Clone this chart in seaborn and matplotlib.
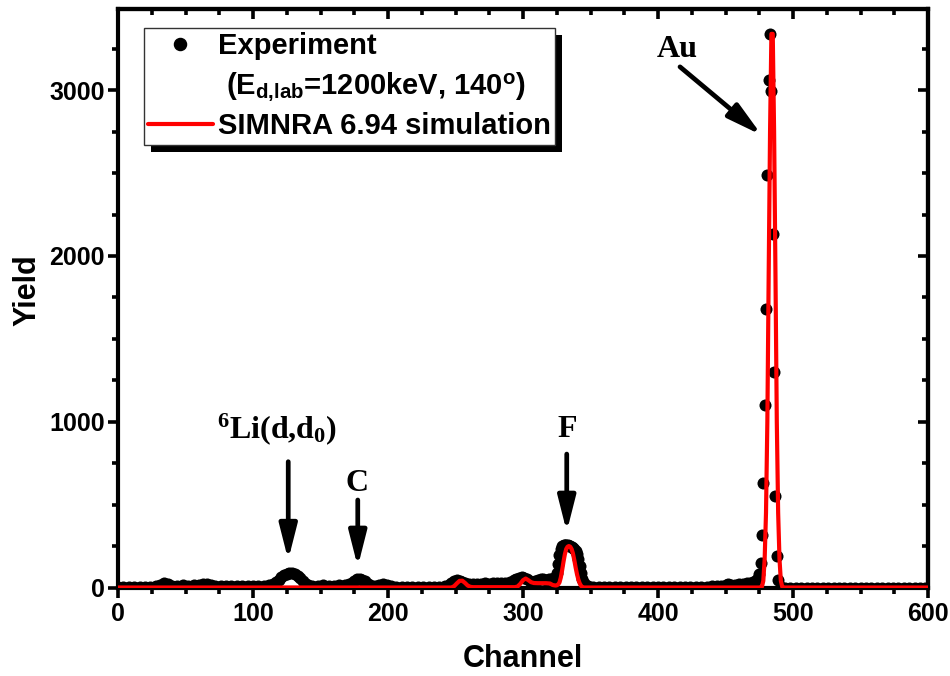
import matplotlib
matplotlib.use("Agg")
import matplotlib.pyplot as plt
import seaborn as sns
import pandas as pd
from matplotlib import font_manager
from matplotlib.lines import Line2D
from matplotlib.patches import Rectangle
from matplotlib.ticker import MultipleLocator
from matplotlib.transforms import IdentityTransform

# ---------------- data ----------------
# Measured spectrum (channel, counts)
exp_channel = [
    0, 4, 8, 12, 16, 20, 24, 28, 31, 34, 37, 40, 44, 48, 52, 56, 60, 63, 66, 69,
    72, 76, 80, 84, 88, 92, 96, 100, 104, 108, 112,
    115, 117, 119, 121, 123, 125, 127, 129, 131, 133, 135, 137, 139, 141,
    144, 148, 152, 156, 160, 164, 168,
    171, 173, 175, 177, 179, 181, 183, 185, 187,
    190, 193, 196, 199, 202, 206, 210, 214, 218, 222, 226, 230, 234, 238, 242, 245,
    247, 249, 251, 253, 255, 257,
    260, 263, 266, 269, 272, 275, 278, 281, 284, 287, 290, 293,
    295, 297, 299, 301, 303, 305, 307, 309, 311, 313, 315, 317, 319, 321, 323,
    324, 325, 326, 327, 328, 329, 330, 331, 332, 333, 334, 335, 336, 337, 338,
    339, 340, 341, 342, 343, 344, 345, 346, 348,
    352, 356, 360, 364, 368, 372, 376, 380, 384, 388, 392, 396, 400, 404, 408,
    412, 416, 420, 424, 428, 432, 436, 440, 444, 447,
    450, 452, 454, 457, 460, 463, 466, 468, 470, 472, 474, 475,
    476, 477, 478, 479, 480, 481, 482, 483, 484, 485, 486, 487, 488, 489, 491,
    494, 498, 502, 506, 510, 514, 518, 522, 526, 530, 534, 538, 542, 546, 550,
    554, 558, 562, 566, 570, 574, 578, 582, 586, 590, 594, 598, 600,
]
exp_yield = [
    2, 3, 3, 2, 3, 2, 4, 8, 18, 25, 20, 12, 11, 13, 12, 13, 15, 20, 22, 15,
    10, 9, 9, 10, 9, 8, 9, 10, 9, 11, 14,
    20, 32, 48, 64, 77, 84, 86, 85, 80, 70, 55, 38, 24, 16,
    12, 12, 13, 12, 12, 13, 15,
    20, 30, 42, 51, 53, 48, 37, 24, 14,
    10, 14, 19, 14, 8, 5, 4, 4, 4, 4, 4, 5, 5, 6, 8, 15,
    30, 42, 45, 42, 34, 26,
    22, 21, 23, 24, 25, 24, 25, 26, 27, 29, 34, 45,
    54, 59, 61, 58, 50, 40, 36, 40, 48, 51, 50, 48, 50, 54, 58,
    60, 90, 140, 195, 232, 250, 256, 258, 257, 255, 252, 248, 244, 240, 232,
    220, 200, 170, 130, 85, 50, 25, 12, 8,
    6, 5, 5, 5, 4, 4, 4, 5, 5, 5, 4, 4, 4, 4, 4,
    4, 5, 5, 5, 5, 5, 6, 7, 8, 12,
    18, 22, 14, 16, 20, 24, 26, 30, 34, 40, 55, 80,
    146, 314, 629, 1100, 1683, 2491, 3063, 3337, 2996, 2132, 1302, 550, 191, 45, 5,
    0, 0, 0, 0, 0, 0, 0, 0, 0, 0, 0, 0, 0, 0, 0,
    0, 0, 0, 0, 0, 0, 0, 0, 0, 0, 0, 0, 0,
]

# SIMNRA simulated spectrum (polyline nodes)
sim_channel = [
    0, 247, 249, 251, 253, 255, 257, 259, 261, 263, 294, 296, 298, 300, 302, 304,
    306, 308, 311, 314, 317, 320, 322, 324,
    325, 326, 327, 328, 329, 330, 331, 332, 333, 334, 335, 336, 337, 338, 339,
    340, 341, 342, 343, 344, 345,
    476, 477, 478, 479, 480, 481, 482, 483, 484, 485, 486, 487, 488, 489, 490,
    491, 492, 493, 600,
]
sim_yield = [
    0, 0, 8, 25, 40, 41, 28, 12, 4, 2, 2, 6, 22, 44, 54, 44,
    32, 27, 26, 26, 26, 24, 15, 12,
    13, 18, 30, 60, 105, 155, 200, 232, 246, 250, 246, 232, 205, 165, 120,
    80, 48, 25, 10, 3, 0,
    0, 5, 40, 170, 450, 1000, 1900, 2750, 3340, 3340, 2750, 1900, 1000, 450, 170,
    40, 5, 0, 0,
]

x_ticks = [0, 100, 200, 300, 400, 500, 600]
y_ticks = [0, 1000, 2000, 3000]

# ---------------- style ----------------
sns.set_style("ticks", rc={
    "axes.edgecolor": "black", "xtick.color": "black", "ytick.color": "black",
    "text.color": "black", "axes.labelcolor": "black",
})
names = {f.name for f in font_manager.fontManager.ttflist}
narrow = "Liberation Sans Narrow" if "Liberation Sans Narrow" in names else "Liberation Sans"
tick_size = 21 if narrow == "Liberation Sans Narrow" else 18
plt.rcParams["font.family"] = [narrow, "DejaVu Sans"]
plt.rcParams["font.weight"] = "bold"
plt.rcParams["mathtext.fontset"] = "custom"
plt.rcParams["mathtext.rm"] = "Liberation Serif:bold"
plt.rcParams["mathtext.bf"] = "Liberation Serif:bold"
plt.rcParams["mathtext.it"] = "Liberation Serif:bold:italic"
plt.rcParams["mathtext.sf"] = "Liberation Sans:bold"

exp_df = pd.DataFrame({"Channel": exp_channel, "Yield": exp_yield})
sim_df = pd.DataFrame({"Channel": sim_channel, "Yield": sim_yield})

fig = plt.figure(figsize=(9.5, 6.76), dpi=100)
ax = fig.add_axes([118 / 950, 88.5 / 676, 810 / 950, 578.5 / 676])

sns.scatterplot(data=exp_df, x="Channel", y="Yield", color="black", s=75,
                linewidth=0, legend=False, ax=ax, zorder=2)
sns.lineplot(data=sim_df, x="Channel", y="Yield", color="red", lw=3.0,
             estimator=None, sort=False, legend=False, ax=ax, zorder=3)

ax.set_xlim(0, 600)
ax.set_ylim(0, 3490)

# axes frame and ticks
for sp in ax.spines.values():
    sp.set_visible(True)
    sp.set_linewidth(3.0)
    sp.set_color("black")
    sp.set_zorder(2.5)
ax.set_xticks(x_ticks)
ax.set_yticks(y_ticks)
ax.xaxis.set_minor_locator(MultipleLocator(25))
ax.yaxis.set_minor_locator(MultipleLocator(250))
ax.tick_params(which="major", direction="out", length=7.5, width=2.6,
               labelsize=tick_size, top=False, right=False, color="black",
               labelcolor="black")
ax.tick_params(which="minor", direction="out", length=4, width=2.6,
               top=False, right=False, color="black")
ax.tick_params(axis="y", pad=2)
ax.tick_params(axis="x", pad=3)

sec_x = ax.secondary_xaxis("top")
sec_x.set_xticks(x_ticks)
sec_x.xaxis.set_minor_locator(MultipleLocator(25))
sec_x.tick_params(which="major", direction="in", length=7.5, width=2.6,
                  labeltop=False, color="black")
sec_x.tick_params(which="minor", direction="in", length=4, width=2.6, color="black")
sec_x.spines["top"].set_linewidth(3.0)
sec_x.spines["top"].set_color("black")

sec_y = ax.secondary_yaxis("right")
sec_y.set_yticks(y_ticks)
sec_y.yaxis.set_minor_locator(MultipleLocator(250))
sec_y.tick_params(which="major", direction="in", length=7.5, width=2.6,
                  labelright=False, color="black")
sec_y.tick_params(which="minor", direction="in", length=4, width=2.6, color="black")
sec_y.spines["right"].set_linewidth(3.0)
sec_y.spines["right"].set_color("black")

ax.set_xlabel("Channel", fontsize=22, fontweight="bold", color="black")
ax.set_ylabel("Yield", fontsize=22, fontweight="bold", color="black")
ax.xaxis.set_label_coords(0.5, -0.098)
ax.yaxis.set_label_coords(-0.093, 0.514)

# peak annotations
serif = dict(family="Liberation Serif", weight="bold", size=23, color="black")
arrow = dict(arrowstyle="-|>,head_length=0.75,head_width=0.19", lw=3.4,
             color="black", mutation_scale=28, shrinkA=0, shrinkB=0)

ax.text(117.5, 900, r"$^{6}$Li(d,d$_{0}$)", ha="center", va="baseline", **serif)
ax.text(177.4, 582, "C", ha="center", va="baseline", **serif)
ax.text(333.0, 909, "F", ha="center", va="baseline", **serif)
ax.text(414.4, 3199, "Au", ha="center", va="baseline", **serif)

ax.annotate("", xy=(126.1, 166), xytext=(126.1, 759), arrowprops=arrow)
ax.annotate("", xy=(177.6, 125), xytext=(177.6, 528), arrowprops=arrow)
ax.annotate("", xy=(332.4, 336), xytext=(332.4, 805), arrowprops=arrow)
ax.annotate("", xy=(476.8, 2729), xytext=(416.3, 3141), arrowprops=arrow)

# legend
h_exp = Line2D([], [], marker="o", ls="none", color="black", markersize=8.7)
h_blank = Line2D([], [], ls="none")
h_sim = Line2D([], [], color="red", lw=3.0)
leg = ax.legend(
    [h_exp, h_blank, h_sim],
    ["Experiment",
     r" (E$_{\mathsf{d{,}lab}}$=1200keV, 140$^{\mathsf{o}}$)",
     "SIMNRA 6.94 simulation"],
    loc="upper left",
    bbox_to_anchor=((144 - 118) / 810, (587.5 - 28) / 578.5),
    borderaxespad=0,
    prop=dict(family="Liberation Sans", weight="bold", size=21),
    handlelength=2.2, handletextpad=0.17, borderpad=0.15, labelspacing=0.33,
    frameon=True, fancybox=False, framealpha=1, edgecolor="#333333",
)
leg.get_frame().set_linewidth(1.0)
leg.set_zorder(6)
for t in leg.get_texts():
    t.set_color("black")

fig.canvas.draw()
bb = leg.get_frame().get_window_extent()
shadow = Rectangle((bb.x0 + 7, bb.y0 - 7), bb.width, bb.height,
                   transform=IdentityTransform(), facecolor="black",
                   edgecolor="none", zorder=5.9)
ax.add_artist(shadow)

fig.savefig("out.png", dpi=100, facecolor="white")
